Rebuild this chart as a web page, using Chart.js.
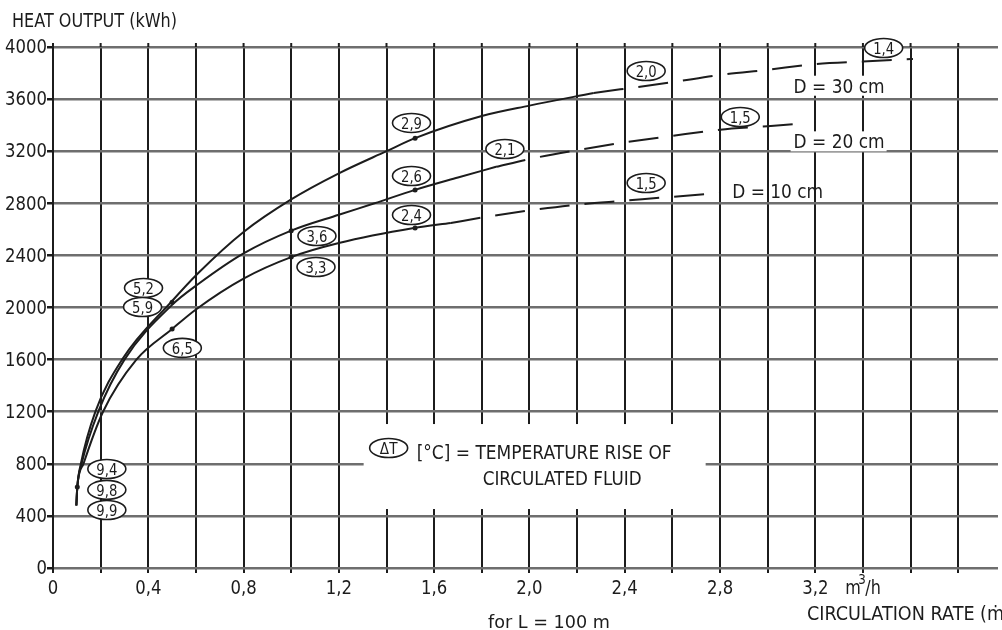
<!DOCTYPE html>
<html>
<head>
<meta charset="utf-8">
<script src="https://cdn.jsdelivr.net/npm/chart.js@4.4.1/dist/chart.umd.min.js"></script>
<style>
html, body { margin: 0; padding: 0; background: #fff; }
#wrap { width: 1002px; height: 630px; position: relative; }
</style>
</head>
<body>
<div id="wrap"><canvas id="myChart"></canvas></div>
<script>
// circulation rate (m3/h) -> heat output (kWh)
var d30_x = [0.098, 0.102, 0.117, 0.178, 0.29, 0.5, 0.61, 0.8, 1.0, 1.2, 1.4, 1.52, 1.8, 2.0, 2.27];
var d30_y = [480, 622, 800, 1200, 1600, 2050, 2265, 2580, 2830, 3030, 3200, 3300, 3470, 3550, 3647];
var d30_dash_x = [2.27, 2.6, 2.8, 3.0, 3.2, 3.4, 3.61];
var d30_dash_y = [3647, 3730, 3785, 3825, 3868, 3888, 3908];

var d20_x = [0.098, 0.102, 0.12, 0.19, 0.3, 0.5, 0.61, 0.8, 1.0, 1.2, 1.35, 1.52, 1.7, 1.86];
var d20_y = [480, 622, 800, 1200, 1600, 2020, 2180, 2415, 2590, 2712, 2800, 2903, 2998, 3080];
var d20_dash_x = [1.86, 2.0, 2.2, 2.4, 2.6, 2.8, 3.0, 3.16];
var d20_dash_y = [3080, 3140, 3208, 3268, 3318, 3365, 3392, 3416];

var d10_x = [0.098, 0.102, 0.128, 0.21, 0.35, 0.5, 0.6, 0.8, 1.0, 1.2, 1.515, 1.67];
var d10_y = [480, 622, 800, 1200, 1600, 1835, 1985, 2222, 2387, 2495, 2610, 2649];
var d10_dash_x = [1.67, 1.8, 2.0, 2.2, 2.4, 2.6, 2.8];
var d10_dash_y = [2649, 2690, 2745, 2790, 2820, 2850, 2879];

// measured points (dots on the curves)
var mark_x = [0.102, 0.5, 0.5, 1.0, 1.0, 1.52, 1.52, 1.52];
var mark_y = [622, 2040, 1835, 2590, 2387, 3300, 2903, 2610];

// delta T labels [°C] next to the points
var dt_text = ['9,4', '9,8', '9,9', '5,2', '5,9', '6,5', '3,6', '3,3', '2,9', '2,6', '2,4', '2,1', '2,0', '1,5', '1,5', '1,4'];
var dt_x = [0.226, 0.226, 0.226, 0.38, 0.376, 0.543, 1.108, 1.104, 1.505, 1.505, 1.505, 1.897, 2.49, 2.49, 2.885, 3.487];
var dt_y = [760, 600, 445, 2150, 2004, 1690, 2549, 2311, 3417, 3010, 2710, 3217, 3816, 2956, 3462, 3992];

var curve_names = ['D = 30 cm', 'D = 20 cm', 'D = 10 cm'];
var name_x = [3.109, 3.109, 2.851];
var name_y = [3649, 3222, 2838];

var y_ticks = [0, 400, 800, 1200, 1600, 2000, 2400, 2800, 3200, 3600, 4000];
var y_tick_labels = ['0', '400', '800', '1200', '1600', '2000', '2400', '2800', '3200', '3600', '4000'];
var x_ticks = [0, 0.4, 0.8, 1.2, 1.6, 2.0, 2.4, 2.8, 3.2];
var x_tick_labels = ['0', '0,4', '0,8', '1,2', '1,6', '2,0', '2,4', '2,8', '3,2'];

var INK = '#1c1c1c';
var FONT = '"DejaVu Sans"';

function pts(xs, ys) {
  return xs.map(function (x, i) { return { x: x, y: ys[i] }; });
}

function fit(ctx, s, size, width) {
  ctx.font = size + 'px ' + FONT;
  return width / ctx.measureText(s).width;
}

function drawText(ctx, s, x, y, size, sx, align, base) {
  ctx.save();
  ctx.font = size + 'px ' + FONT;
  ctx.fillStyle = INK;
  ctx.textAlign = align || 'left';
  ctx.textBaseline = base || 'alphabetic';
  ctx.translate(x, y);
  ctx.scale(sx, 1);
  ctx.fillText(s, 0, 0);
  ctx.restore();
}

function ellipse(ctx, cx, cy) {
  ctx.beginPath();
  ctx.ellipse(cx, cy, 19, 9.5, 0, 0, Math.PI * 2);
  ctx.fillStyle = '#fff';
  ctx.fill();
  ctx.lineWidth = 1.6;
  ctx.strokeStyle = INK;
  ctx.stroke();
}

var paper = {
  id: 'paper',
  beforeDatasetsDraw: function (chart) {
    var ctx = chart.ctx, xs = chart.scales.x, ys = chart.scales.y, a = chart.chartArea;
    var numSx = fit(ctx, '4000', 20, 42);
    ctx.save();
    // grid lines poke a little above the top line
    ctx.strokeStyle = INK;
    ctx.lineWidth = 2;
    xs.ticks.forEach(function (t) {
      var px = xs.getPixelForValue(t.value);
      ctx.beginPath();
      ctx.moveTo(px, a.top - 4);
      ctx.lineTo(px, a.top);
      ctx.stroke();
    });
    // blank area behind the legend text
    var lx = xs.getPixelForValue(1.409), ly = ys.getPixelForValue(921);
    ctx.fillStyle = '#fff';
    ctx.fillRect(lx - 25, ly - 24, 342, 85);
    // blank behind two of the curve names
    for (var i = 0; i < 2; i++) {
      var nx = xs.getPixelForValue(name_x[i]), ny = ys.getPixelForValue(name_y[i]);
      ctx.fillRect(nx - 3, ny - 17, 96, 20);
    }
    // delta T ellipses
    for (var j = 0; j < dt_text.length; j++) {
      var cx = xs.getPixelForValue(dt_x[j]), cy = ys.getPixelForValue(dt_y[j]);
      ellipse(ctx, cx, cy);
      drawText(ctx, dt_text[j], cx, cy + 6, 16, numSx, 'center');
    }
    // legend
    ellipse(ctx, lx, ly);
    drawText(ctx, '\u0394T', lx, ly + 6, 16, 0.85, 'center');
    ctx.restore();
  },
  afterDraw: function (chart) {
    var ctx = chart.ctx, xs = chart.scales.x, ys = chart.scales.y, a = chart.chartArea;
    var numSx = fit(ctx, '4000', 20, 42);
    ctx.save();
    y_ticks.forEach(function (v, i) {
      drawText(ctx, y_tick_labels[i], a.left - 6, ys.getPixelForValue(v) + 1, 20, numSx, 'right', 'middle');
    });
    x_ticks.forEach(function (v, i) {
      drawText(ctx, x_tick_labels[i], xs.getPixelForValue(v), a.bottom + 26, 20, numSx, 'center');
    });
    // unit next to the last label
    var ux = xs.getPixelForValue(3.2) + 30, uy = a.bottom + 26;
    drawText(ctx, 'm', ux, uy, 20, 0.8);
    drawText(ctx, '3', ux + 13, uy - 10, 14, 0.85);
    drawText(ctx, '/h', ux + 20, uy, 20, 0.8);

    drawText(ctx, 'HEAT OUTPUT (kWh)', 12, 27, 20, fit(ctx, 'HEAT OUTPUT (kWh)', 20, 165));
    drawText(ctx, 'CIRCULATION RATE (\u1E41)', 807, 620, 20, 0.88);
    drawText(ctx, 'for L = 100 m', 488, 628, 18, fit(ctx, 'for L = 100 m', 18, 122));

    var lx = xs.getPixelForValue(1.409), ly = ys.getPixelForValue(921);
    drawText(ctx, '[\u00B0C] = TEMPERATURE RISE OF', lx + 28, ly + 11, 20, fit(ctx, '[\u00B0C] = TEMPERATURE RISE OF', 20, 255));
    drawText(ctx, 'CIRCULATED FLUID', lx + 94, ly + 37, 20, fit(ctx, 'CIRCULATED FLUID', 20, 159));

    curve_names.forEach(function (s, i) {
      drawText(ctx, s, xs.getPixelForValue(name_x[i]), ys.getPixelForValue(name_y[i]), 20, fit(ctx, s, 20, 91));
    });
    ctx.restore();
  }
};

function curve(xs, ys, dashed) {
  return {
    data: pts(xs, ys),
    borderColor: INK,
    borderWidth: 2,
    borderDash: dashed ? [30, 15] : [],
    pointRadius: 0,
    fill: false,
    cubicInterpolationMode: 'monotone'
  };
}

var config = {
  type: 'line',
  data: {
    datasets: [
      curve(d30_x, d30_y, false),
      curve(d30_dash_x, d30_dash_y, true),
      curve(d20_x, d20_y, false),
      curve(d20_dash_x, d20_dash_y, true),
      curve(d10_x, d10_y, false),
      curve(d10_dash_x, d10_dash_y, true),
      {
        data: pts(mark_x, mark_y),
        showLine: false,
        pointRadius: 2.5,
        pointBackgroundColor: INK,
        pointBorderWidth: 0
      }
    ]
  },
  options: {
    responsive: true,
    maintainAspectRatio: false,
    animation: false,
    events: [],
    layout: { padding: { top: 47, right: 0, left: 0, bottom: 0 } },
    plugins: {
      legend: { display: false },
      tooltip: { enabled: false }
    },
    scales: {
      x: {
        type: 'linear',
        min: 0,
        max: 3.967,
        afterFit: function (s) { s.height = 62; },
        ticks: { stepSize: 0.2, includeBounds: false, display: false, autoSkip: false },
        grid: { color: INK, lineWidth: 2, tickLength: 5, drawTicks: true },
        border: { display: false }
      },
      y: {
        min: 0,
        max: 4000,
        afterFit: function (s) { s.width = 53; },
        ticks: { stepSize: 400, display: false },
        grid: { color: '#6e6e6e', lineWidth: 2.5, tickLength: 6, tickColor: INK },
        border: { display: true, color: INK, width: 2 }
      }
    }
  },
  plugins: [paper]
};

var chartInstance = new Chart(document.getElementById('myChart'), config);
</script>
</body>
</html>
